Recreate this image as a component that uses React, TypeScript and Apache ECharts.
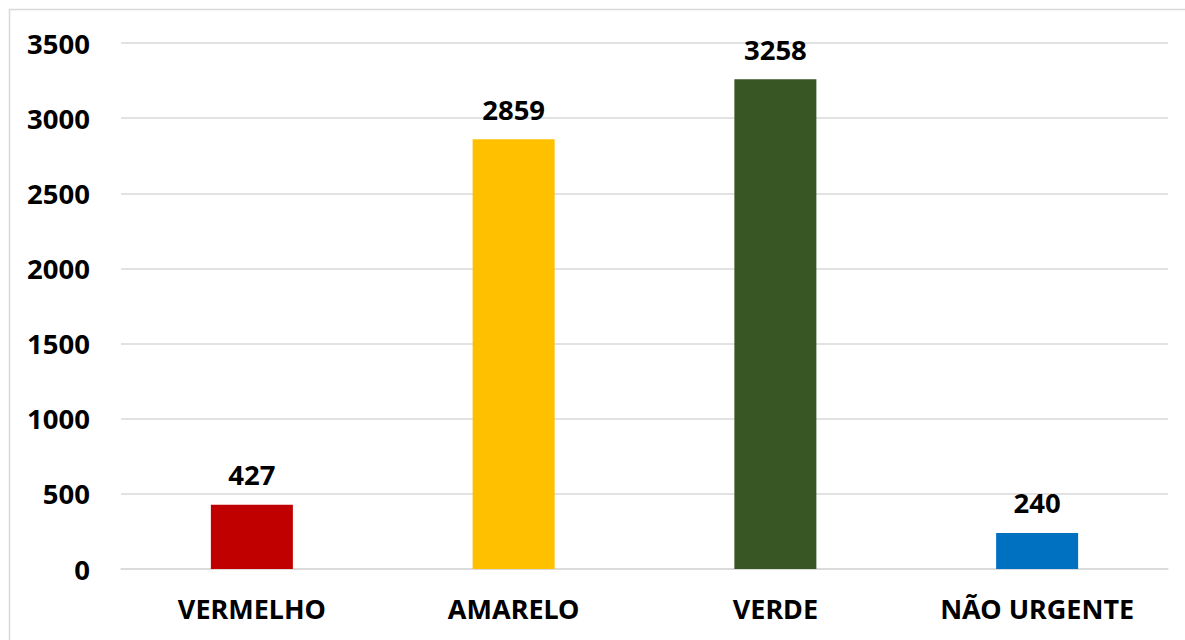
import React, { useEffect, useRef } from "react";
import * as echarts from "echarts";

const categories = ["VERMELHO", "AMARELO", "VERDE", "NÃO URGENTE"];
const values = [427, 2859, 3258, 240];
const colors = ["#C00000", "#FFC000", "#375623", "#0070C0"];
const yTicks = { min: 0, max: 3500, interval: 500 };

const FONT = "'Noto Sans', 'Open Sans', sans-serif";

export default function App() {
  const ref = useRef<HTMLDivElement>(null);
  useEffect(() => {
    if (!ref.current) return;
    const chart = echarts.init(ref.current, null, { renderer: "svg" });
    chart.setOption({
      animation: false,
      backgroundColor: "#ffffff",
      graphic: [
        {
          type: "rect",
          shape: { x: 9.5, y: 9.5, width: 1200, height: 660 },
          style: { fill: "none", stroke: "#d9d9d9", lineWidth: 1.5 },
          silent: true,
        },
      ],
      grid: { left: 121, right: 17, top: 43, bottom: 71, containLabel: false },
      xAxis: {
        type: "category",
        data: categories,
        axisLine: { show: true, lineStyle: { color: "#d9d9d9", width: 1.5 } },
        axisTick: { show: false },
        axisLabel: {
          color: "#000",
          fontFamily: FONT,
          fontWeight: "bold",
          fontSize: 27,
          margin: 26,
        },
      },
      yAxis: {
        type: "value",
        min: yTicks.min,
        max: yTicks.max,
        interval: yTicks.interval,
        axisLine: { show: false },
        axisTick: { show: false },
        splitLine: { lineStyle: { color: "#d9d9d9", width: 1.5 } },
        axisLabel: {
          color: "#000",
          fontFamily: FONT,
          fontWeight: "bold",
          fontSize: 27.5,
          margin: 31,
          formatter: (v: number) => String(v),
        },
      },
      series: [
        {
          type: "bar",
          barWidth: 82,
          data: values.map((v, i) => ({ value: v, itemStyle: { color: colors[i] } })),
          label: {
            show: true,
            position: "top",
            distance: 16,
            color: "#000",
            fontFamily: FONT,
            fontWeight: "bold",
            fontSize: 27.5,
          },
        },
      ],
    });
    return () => chart.dispose();
  }, []);
  return (
    <div
      ref={ref}
      style={{ position: "absolute", left: 0, top: 0, width: 1185, height: 640 }}
    />
  );
}
